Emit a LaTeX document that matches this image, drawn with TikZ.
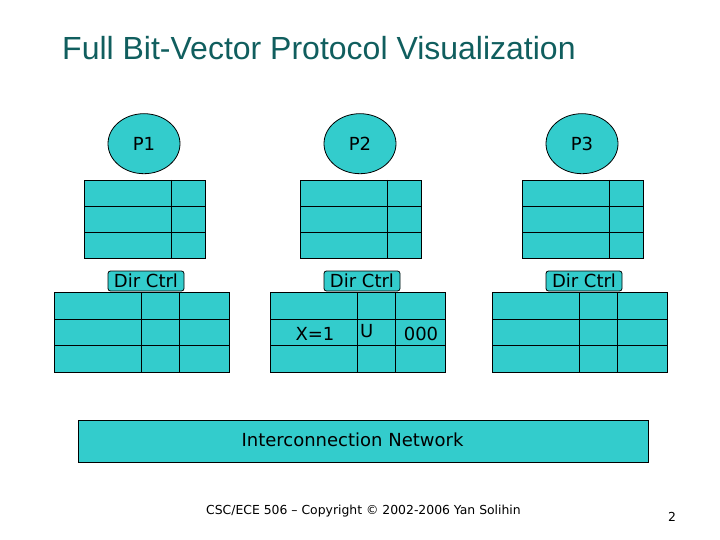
\documentclass[tikz,border=0pt]{standalone}
\usepackage{fontspec}
\setmainfont{DejaVu Sans}
\newfontfamily\titlefont{Liberation Sans}
\usetikzlibrary{shapes.geometric}
\definecolor{teal1}{RGB}{51,204,204}
\definecolor{titlecol}{RGB}{16,94,94}
\tikzset{
  cell/.style={draw=black, fill=teal1, line width=0.8pt},
  proc/.style={ellipse, draw=black, fill=teal1, line width=0.8pt, minimum width=72pt, minimum height=60pt, inner sep=0pt, font=\fontsize{18}{21}\selectfont},
  tbl/.style={rectangle, draw=black, fill=teal1, line width=0.8pt, inner sep=0pt, anchor=north west},
  dirlab/.style={rectangle, rounded corners=2.5pt, draw=black, fill=teal1, line width=0.8pt, minimum width=76pt, minimum height=20pt, inner sep=0pt, font=\fontsize{18}{21}\selectfont},
  celltext/.style={inner sep=0pt, font=\fontsize{18}{21}\selectfont}
}
\begin{document}
\begin{tikzpicture}[x=1pt,y=-1pt]
\useasboundingbox (0,0) rectangle (720,540);
\node[anchor=base west, inner sep=0pt, text=titlecol, font=\titlefont\fontsize{32}{38}\selectfont] (title) at (62,59.5) {Full Bit-Vector Protocol Visualization};
\foreach \i/\cx/\cl/\dl in {1/144/84/54, 2/360/300/270, 3/582/522.3/492.3} {
  \node[proc] (p\i) at (\cx,143.7) {P\i};
  \node[tbl, minimum width=120.5pt, minimum height=78pt] (cache\i) at (\cl,180) {};
  \draw[line width=0.8pt] (\cl,206.7) -- ++(120.5,0) (\cl,232.7) -- ++(120.5,0) (\cl+87.5,180) -- ++(0,78);
  \node[dirlab] (dc\i) at (\cx+2,281) {Dir Ctrl};
  \node[tbl, minimum width=174.5pt, minimum height=80pt] (dir\i) at (\dl,292.3) {};
  \draw[line width=0.8pt] (\dl,319) -- ++(174.5,0) (\dl,345.3) -- ++(174.5,0) (\dl+87.5,292.3) -- ++(0,80) (\dl+125.3,292.3) -- ++(0,80);
}
\node[celltext] (x1) at (315,334) {X=1};
\node[celltext] (u) at (366.7,331) {U};
\node[celltext] (bits) at (421,334) {000};
\node[tbl, minimum width=570pt, minimum height=42pt] (net) at (78,420) {};
\node[celltext] (netlab) at (352.5,440) {Interconnection Network};
\node[inner sep=0pt, font=\fontsize{12.4}{15}\selectfont] (foot) at (363.5,511) {CSC/ECE 506 – Copyright © 2002-2006 Yan Solihin};
\node[inner sep=0pt, font=\fontsize{12.4}{15}\selectfont] (pg) at (672,517) {2};
\end{tikzpicture}
\end{document}
